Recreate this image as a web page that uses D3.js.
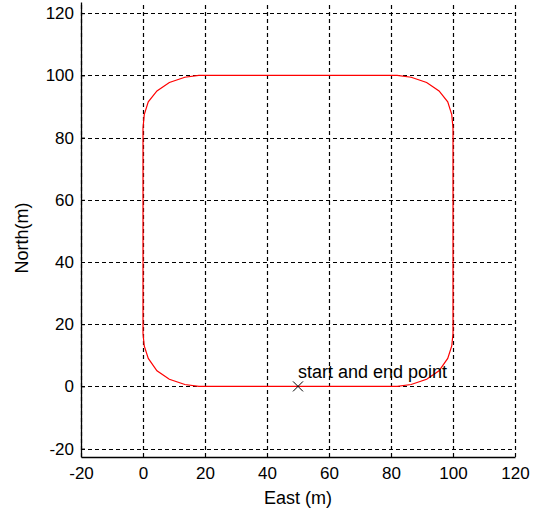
<!DOCTYPE html>
<html>
<head>
<meta charset="utf-8">
<script src="https://cdn.jsdelivr.net/npm/d3@7"></script>
<style>
body { margin:0; background:#fff; }
text { font-family: Arial, "Liberation Sans", sans-serif; fill:#000; }
</style>
</head>
<body>
<svg width="537" height="514"></svg>
<script>
var margin = {left:81,right:22,top:2,bottom:57};
var width = 537, height = 514;

// path waypoints (East, North)
var pathEast  = [50, 82, 86.5, 91.5, 95.5, 98.3, 99.6, 100, 100, 99.6, 98.3, 95.5, 91.5, 86.5, 82,
                 18, 13.5, 8.5, 4.5, 1.7, 0.4, 0, 0, 0.4, 1.7, 4.5, 8.5, 13.5, 18, 50];
var pathNorth = [0, 0, 0.6, 2.3, 5, 9, 13, 17, 83, 87.4, 91.5, 95, 97.7, 99.4, 100,
                 100, 99.4, 97.7, 95, 91.5, 87.4, 83, 17, 13, 9, 5, 2.3, 0.6, 0, 0];
var startPoint = [50, 0];
var xTicks = [-20, 0, 20, 40, 60, 80, 100, 120];
var yTicks = [-20, 0, 20, 40, 60, 80, 100, 120];

var svg = d3.select("svg");

var x = d3.scaleLinear().domain([-20, 120]).range([margin.left, width - margin.right]);
var y = d3.scaleLinear().domain([-22.7, 123.6]).range([height - margin.bottom, margin.top]);

// grid
svg.append("g").selectAll("line").data(xTicks).enter().append("line")
  .attr("x1", function(d){ return Math.round(x(d)) + 0.5; })
  .attr("x2", function(d){ return Math.round(x(d)) + 0.5; })
  .attr("y1", y.range()[0]).attr("y2", y.range()[1])
  .attr("stroke", "#000").attr("stroke-width", 1.2).attr("stroke-dasharray", "4,3");
svg.append("g").selectAll("line").data(yTicks).enter().append("line")
  .attr("y1", function(d){ return Math.round(y(d)) + 0.5; })
  .attr("y2", function(d){ return Math.round(y(d)) + 0.5; })
  .attr("x1", x.range()[0]).attr("x2", x.range()[1])
  .attr("stroke", "#000").attr("stroke-width", 1.2).attr("stroke-dasharray", "4,3");

// axes
var fmt = function(d){ return String(d); };
var xAxis = svg.append("g")
  .attr("transform", "translate(0," + (height - margin.bottom) + ")")
  .call(d3.axisBottom(x).tickValues(xTicks).tickFormat(fmt).tickSizeInner(-4).tickSizeOuter(0).tickPadding(10));
var yAxis = svg.append("g")
  .attr("transform", "translate(" + margin.left + ",0)")
  .call(d3.axisLeft(y).tickValues(yTicks).tickFormat(fmt).tickSizeInner(-4).tickSizeOuter(0).tickPadding(7));
[xAxis, yAxis].forEach(function(a){
  a.select(".domain").attr("stroke", "#000").attr("stroke-width", 1.3);
  a.selectAll(".tick line").attr("stroke", "#000");
  a.selectAll("text").attr("font-size", 17).attr("font-family", "Arial, 'Liberation Sans', sans-serif");
});

// trajectory
var line = d3.line()
  .x(function(d){ return x(d[0]); })
  .y(function(d){ return y(d[1]); });
svg.append("path")
  .datum(pathEast.map(function(e, i){ return [e, pathNorth[i]]; }))
  .attr("d", line)
  .attr("fill", "none").attr("stroke", "#ff0000").attr("stroke-width", 1.2);

// start marker
var sx = x(startPoint[0]), sy = y(startPoint[1]);
svg.append("path")
  .attr("d", "M" + (sx-5) + "," + (sy-5) + "L" + (sx+5) + "," + (sy+5) + "M" + (sx-5) + "," + (sy+5) + "L" + (sx+5) + "," + (sy-5))
  .attr("stroke", "#000").attr("stroke-width", 1);
svg.append("text")
  .attr("x", sx).attr("y", sy - 8)
  .attr("font-size", 18)
  .text("start and end point");

// labels
svg.append("text")
  .attr("x", (x(-20) + x(120)) / 2 + 0).attr("y", 504)
  .attr("text-anchor", "middle").attr("font-size", 18)
  .text("East (m)");
svg.append("text")
  .attr("transform", "translate(27.5,238) rotate(-90)")
  .attr("text-anchor", "middle").attr("font-size", 18)
  .text("North(m)");
</script>
</body>
</html>
